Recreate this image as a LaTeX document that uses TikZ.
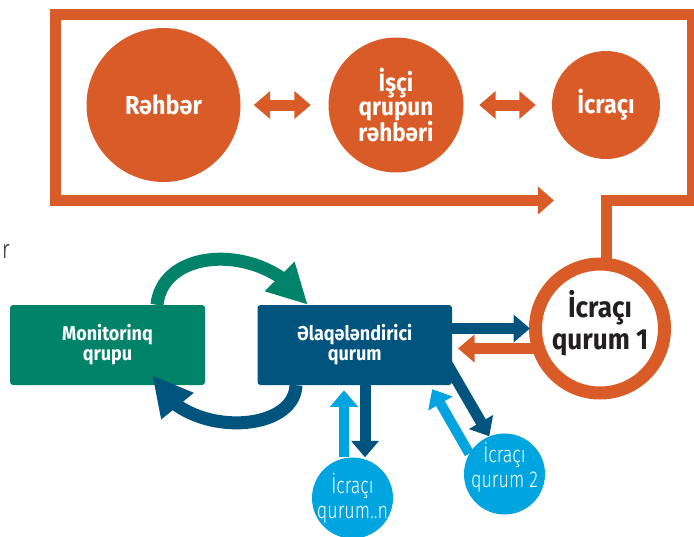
\documentclass[tikz,border=0pt]{standalone}
\usepackage{fontspec}
\setmainfont{Fira Sans}[FakeStretch=0.9]
\newfontfamily\thinfont{Fira Sans Light}[FakeStretch=0.78]
\usetikzlibrary{arrows.meta, bending, calc}

\definecolor{orng}{RGB}{217,91,39}
\definecolor{mongreen}{RGB}{0,131,105}
\definecolor{elablue}{RGB}{0,84,125}
\definecolor{skyblue}{RGB}{0,164,222}
\definecolor{inkgray}{RGB}{35,31,32}

\tikzset{
  topcirc/.style={circle, fill=orng, text=white, inner sep=0pt, align=center, font=\bfseries\fontsize{26}{23}\selectfont},
  qbox/.style={rectangle, rounded corners=3pt, minimum width=195pt, minimum height=80pt, inner sep=0pt, text=white, align=center, font=\bfseries\fontsize{20}{20}\selectfont},
  ring/.style={circle, draw=orng, line width=13pt, fill=white, minimum size=129pt, inner sep=0pt, outer sep=0pt},
  ringtxt/.style={text=inkgray, align=center, font=\bfseries\fontsize{29}{32}\selectfont},
  smallcirc/.style={circle, fill=skyblue, minimum size=81pt, inner sep=0pt},
  smalltxt/.style={text=white, align=center, font=\thinfont\fontsize{23}{25}\selectfont},
  thinarrow/.style={line width=11pt, -{Triangle[length=16.5pt, width=27pt]}},
  twoway/.style={line width=11pt, {Triangle[length=16.5pt, width=27pt]}-{Triangle[length=16.5pt, width=27pt]}},
  bigarrow/.style={line width=13pt, -{Triangle[length=40pt, width=39pt, flex]}}
}

\begin{document}
\begin{tikzpicture}[x=1pt, y=-1pt]
  \useasboundingbox (0,0) rectangle (694,536);

  % top row: who reports to whom
  \node[topcirc, minimum size=154pt] (rehber) at (163.5,105) {Rəhbər};
  \node[topcirc, minimum size=135pt, font=\bfseries\fontsize{25}{24}\selectfont] (isci) at (396,105) {İşçi\\qrupun\\rəhbəri};
  \node[topcirc, minimum size=108pt] (icraci) at (606,105) {İcraçı};

  \draw[twoway, orng] ([xshift=13pt]rehber.east) -- ([xshift=-17.5pt]isci.west);
  \draw[twoway, orng] ([xshift=15.5pt]isci.east) -- ([xshift=-16pt]icraci.west);

  % lower part
  \node[qbox, fill=mongreen] (mon) at (107.5,345) {Monitorinq\\qrupu};
  \node[qbox, fill=elablue, minimum width=194.5pt] (ela) at (354.75,345) {Əlaqələndirici\\qurum};
  \node[ring] (cir1) at (600,328.5) {};
  \node[ringtxt] (cir1txt) at ([yshift=5pt]cir1.center) {İcraçı\\qurum 1};
  \node[smallcirc] (cir2) at (504.5,474) {};
  \node[smalltxt] (cir2txt) at ([yshift=7pt]cir2.center) {İcraçı\\qurum 2};
  \node[smallcirc] (cirn) at (352.5,498) {};
  \node[smalltxt] (cirntxt) at (cirn.center) {İcraçı\\qurum..n};

  \node[text=inkgray, font=\thinfont\fontsize{26}{26}\selectfont, inner sep=0pt, anchor=base west] (cut) at (2,258) {r};

  % frame round the top row, coming out of the ring
  \coordinate (frametip) at (554,200.5);
  \draw[orng, line width=11pt, -{Triangle[length=16pt, width=27pt]}] ([xshift=6pt]cir1.north) |- (692.5,200.5) -- (692.5,14.5) -- (55.5,14.5) -- (55.5,200.5) -- (frametip);

  % curved arrows between the two boxes
  \draw[bigarrow, mongreen] ([xshift=49.5pt]mon.north) .. controls (163,245) and (268,243) .. ([xshift=50.5pt]ela.north west);
  \draw[bigarrow, elablue] ([xshift=-58.75pt]ela.south) .. controls (294,436) and (178,438) .. ($(mon.south east)+(-53,-10)$);

  % links to the ring
  \draw[thinarrow, elablue] (ela.east |- cir1.west) -- ([xshift=-5.5pt]cir1.west);
  \draw[thinarrow, orng] ([yshift=-20pt]cir1.west) -- ++(-77.5,0);

  % links to the small circles
  \draw[thinarrow, elablue] ([xshift=12.5pt]cirn.north |- ela.south) -- ([xshift=12.5pt]cirn.north);
  \draw[thinarrow, skyblue, line width=10pt] ([xshift=-8.5pt]cirn.north) -- ++(0,-67);
  \draw[thinarrow, elablue] ($(ela.south east)+(-10,-30)$) -- (cir2.112);
  \draw[thinarrow, skyblue, line width=10pt] (cir2.150) -- ($(ela.south east)+(-20,4)$);
\end{tikzpicture}
\end{document}
